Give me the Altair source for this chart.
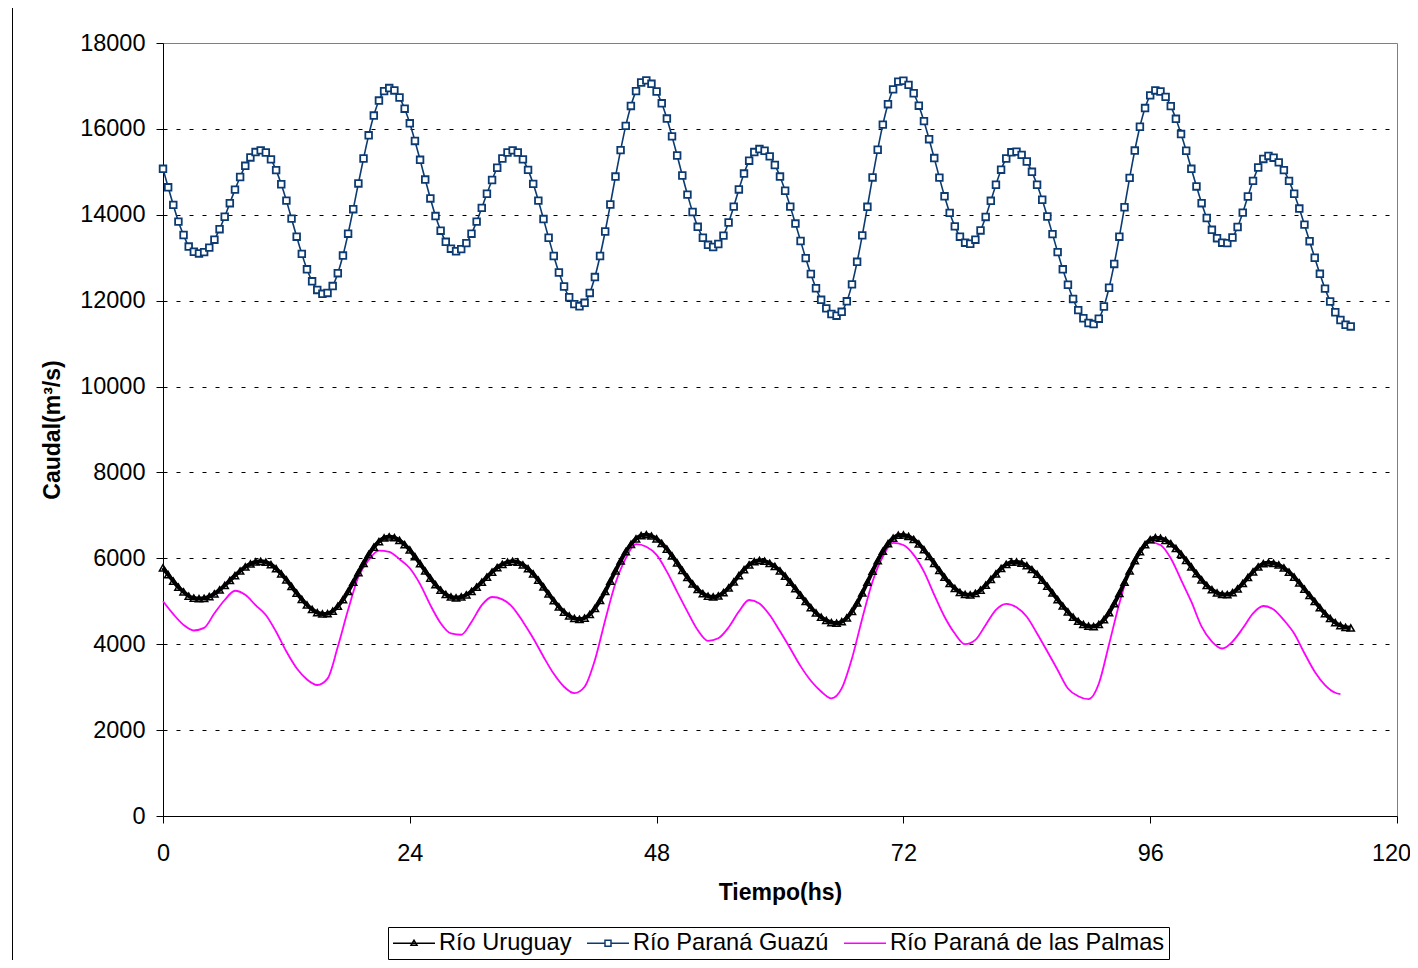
import altair as alt
import pandas as pd

# ---------------- data ----------------
series_names = ["Río Uruguay", "Río Paraná Guazú", "Río Paraná de las Palmas"]
series_colors = ["#000000", "#0B3B72", "#FF00FF"]

# half-hourly readings for the two marked series, hourly for the Palmas line
hours_marked = [i * 0.5 for i in range(232)]          # 0 .. 115.5
hours_palmas = list(range(115)) + [114.5]

guazu = [15070, 14640, 14230, 13840, 13530, 13260, 13140, 13100, 13130, 13235,
         13420, 13665, 13955, 14270, 14585, 14880, 15140, 15335, 15460, 15500,
         15450, 15290, 15040, 14710, 14330, 13910, 13490, 13090, 12730, 12450,
         12250, 12160, 12180, 12340, 12640, 13050, 13560, 14130, 14730, 15310,
         15850, 16310, 16660, 16880, 16950, 16895, 16730, 16470, 16130, 15720,
         15280, 14820, 14380, 13970, 13630, 13370, 13210, 13150, 13200, 13340,
         13560, 13840, 14160, 14490, 14810, 15095, 15310, 15450, 15500, 15450,
         15290, 15045, 14720, 14330, 13900, 13465, 13040, 12655, 12330, 12080,
         11920, 11870, 11950, 12180, 12550, 13040, 13610, 14240, 14890, 15505,
         16070, 16535, 16880, 17080, 17130, 17050, 16870, 16595, 16240, 15825,
         15380, 14915, 14470, 14065, 13720, 13465, 13300, 13250, 13320, 13515,
         13820, 14190, 14590, 14960, 15260, 15460, 15530, 15490, 15360, 15160,
         14890, 14560, 14190, 13795, 13390, 12990, 12620, 12290, 12020, 11820,
         11690, 11650, 11740, 11985, 12380, 12905, 13520, 14185, 14870, 15515,
         16100, 16575, 16920, 17100, 17120, 17025, 16830, 16540, 16180, 15760,
         15320, 14865, 14430, 14045, 13730, 13490, 13350, 13325, 13420, 13635,
         13950, 14325, 14700, 15050, 15310, 15455, 15470, 15395, 15240, 15000,
         14700, 14350, 13960, 13550, 13130, 12730, 12370, 12040, 11780, 11590,
         11480, 11455, 11580, 11865, 12300, 12855, 13490, 14175, 14860, 15495,
         16050, 16485, 16780, 16895, 16870, 16745, 16530, 16235, 15880, 15490,
         15070, 14660, 14270, 13925, 13650, 13455, 13350, 13340, 13470, 13715,
         14050, 14425, 14790, 15100, 15300, 15370, 15330, 15220, 15040, 14790,
         14490, 14145, 13770, 13385, 13000, 12625, 12280, 11980, 11730, 11550,
         11440, 11400]

uruguay = [5780, 5620, 5470, 5330, 5220, 5120, 5075, 5060, 5070, 5110,
           5175, 5265, 5370, 5485, 5600, 5705, 5800, 5870, 5915, 5930,
           5910, 5855, 5760, 5640, 5500, 5345, 5190, 5045, 4915, 4810,
           4735, 4705, 4710, 4770, 4885, 5040, 5230, 5445, 5670, 5885,
           6090, 6260, 6390, 6475, 6500, 6480, 6420, 6320, 6195, 6040,
           5875, 5705, 5540, 5385, 5260, 5160, 5100, 5080, 5100, 5150,
           5230, 5330, 5445, 5565, 5680, 5785, 5860, 5910, 5930, 5910,
           5850, 5760, 5640, 5495, 5335, 5175, 5015, 4870, 4750, 4660,
           4600, 4580, 4610, 4695, 4835, 5020, 5230, 5470, 5710, 5940,
           6155, 6325, 6455, 6530, 6550, 6520, 6455, 6350, 6215, 6060,
           5895, 5720, 5555, 5405, 5275, 5180, 5120, 5100, 5125, 5200,
           5310, 5450, 5600, 5735, 5850, 5925, 5950, 5935, 5885, 5810,
           5710, 5585, 5445, 5295, 5145, 4995, 4855, 4730, 4630, 4555,
           4505, 4490, 4525, 4615, 4765, 4960, 5195, 5445, 5700, 5945,
           6165, 6340, 6470, 6540, 6545, 6510, 6440, 6335, 6200, 6045,
           5885, 5720, 5560, 5415, 5300, 5210, 5160, 5150, 5185, 5260,
           5375, 5510, 5640, 5765, 5860, 5910, 5915, 5890, 5830, 5740,
           5630, 5495, 5350, 5195, 5040, 4890, 4755, 4630, 4535, 4460,
           4420, 4410, 4460, 4570, 4735, 4945, 5185, 5445, 5705, 5945,
           6155, 6320, 6435, 6480, 6470, 6420, 6340, 6230, 6100, 5955,
           5800, 5645, 5500, 5370, 5270, 5195, 5160, 5155, 5200, 5290,
           5415, 5555, 5685, 5800, 5875, 5900, 5885, 5845, 5775, 5680,
           5565, 5430, 5285, 5140, 4995, 4850, 4715, 4600, 4505, 4435,
           4395, 4380]

palmas = [5000, 4700, 4450, 4320, 4380, 4720, 5030, 5245, 5150, 4910,
          4680, 4290, 3830, 3440, 3180, 3050, 3200, 3940, 4800, 5570,
          5960, 6180, 6150, 5980, 5770, 5400, 4910, 4490, 4250, 4220,
          4520, 4910, 5100, 5045, 4860, 4525, 4140, 3710, 3310, 3010,
          2860, 3010, 3630, 4560, 5420, 6000, 6330, 6270, 6080, 5690,
          5220, 4760, 4330, 4080, 4140, 4390, 4760, 5030, 4950, 4680,
          4300, 3900, 3490, 3150, 2900, 2740, 2970, 3670, 4600, 5460,
          6040, 6360, 6310, 6080, 5690, 5150, 4640, 4250, 4000, 4100,
          4450, 4800, 4940, 4860, 4640, 4250, 3830, 3400, 2970, 2790,
          2720, 3080, 4000, 4950, 5730, 6190, 6370, 6310, 6000, 5500,
          4990, 4410, 4060, 3900, 4060, 4370, 4720, 4890, 4810, 4560,
          4250, 3790, 3360, 3050, 2870, 2840]

x_ticks = [0, 24, 48, 72, 96, 120]
y_ticks = list(range(0, 18001, 2000))

# legend symbols: line with marker (path units = 11 px)
legend_paths = [
    "M-1,0H2.818M0.64,0.18L0.909,-0.27L1.18,0.18Z",
    "M-1,0H0.636M1.182,0H2.818M0.636,-0.273H1.182V0.273H0.636Z",
    "M-1,0H2.818",
]

rows = []
for t, v in zip(hours_marked, uruguay):
    rows.append({"t": t, "q": v, "serie": series_names[0]})
for t, v in zip(hours_marked, guazu):
    rows.append({"t": t, "q": v, "serie": series_names[1]})
for t, v in zip(hours_palmas, palmas):
    rows.append({"t": t, "q": v, "serie": series_names[2]})
df = pd.DataFrame(rows)

FONT = "Liberation Sans"
W, H = 1234, 773

x_enc = alt.X("t:Q",
              scale=alt.Scale(domain=[0, 120], nice=False, zero=False),
              axis=alt.Axis(values=x_ticks, title="Tiempo(hs)", grid=False,
                            tickSize=7, labelPadding=18, labelFontSize=23.5,
                            labelFlush=False,
                            labelOffset=alt.condition("datum.value >= 120", alt.value(-6), alt.value(0)),
                            titleFontSize=23, titleFontWeight="bold",
                            titleY=76, titleBaseline="middle"))
y_enc = alt.Y("q:Q",
              scale=alt.Scale(domain=[0, 18000], nice=False),
              axis=alt.Axis(values=y_ticks, format="d", title="Caudal(m³/s)", grid=True,
                            gridColor="black", gridDash=[4, 9], gridWidth=1,
                            gridOpacity=alt.condition("datum.value >= 18000", alt.value(0), alt.value(1)),
                            tickSize=7, labelPadding=11, labelFontSize=23.5,
                            labelFlush=False,
                            titleFontSize=23, titleFontWeight="bold",
                            titleX=-111, titleY=386.5, titleBaseline="middle",
                            titleAngle=270))

base = alt.Chart(df)

def sel(name):
    return base.transform_filter(alt.datum.serie == name)

uru_line = sel(series_names[0]).mark_line(color=series_colors[0], strokeWidth=4,
                                           interpolate="monotone").encode(x=x_enc, y=y_enc)
uru_pts = sel(series_names[0]).mark_point(shape="triangle-up", size=52, filled=False,
                                           color=series_colors[0], strokeWidth=1.5,
                                           opacity=1).encode(x=x_enc, y=y_enc)
gua_line = sel(series_names[1]).mark_line(color=series_colors[1], strokeWidth=1.6,
                                           interpolate="monotone").encode(x=x_enc, y=y_enc)
gua_pts = sel(series_names[1]).mark_point(shape="square", size=44, filled=True, fill="white",
                                           stroke=series_colors[1], strokeWidth=1.8,
                                           opacity=1).encode(x=x_enc, y=y_enc)
pal_line = sel(series_names[2]).mark_line(color=series_colors[2], strokeWidth=1.8,
                                           interpolate="monotone").encode(x=x_enc, y=y_enc)

leg = alt.Legend(title=None, orient="none", legendX=225, legendY=884,
                 direction="horizontal", strokeColor="black", fillColor="white",
                 padding=4, labelFont=FONT, labelFontSize=23.6, labelColor="black",
                 labelLimit=500, symbolSize=484, symbolStrokeWidth=1.5,
                 labelOffset=23, columnPadding=12, cornerRadius=0)

legend_layer = base.transform_filter("datum.t < 0").mark_point(
    filled=False, strokeWidth=1.5, opacity=1).encode(
    x=x_enc, y=y_enc,
    color=alt.Color("serie:N", scale=alt.Scale(domain=series_names, range=series_colors), legend=leg),
    shape=alt.Shape("serie:N", scale=alt.Scale(domain=series_names, range=legend_paths), legend=leg),
)

frame = alt.Chart(pd.DataFrame({"k": [0]})).mark_rect(
    fill="white", fillOpacity=0, stroke="black", strokeWidth=1).encode(
    x=alt.value(-150.5), x2=alt.value(1400), y=alt.value(-35.5), y2=alt.value(1000))

chart = alt.layer(frame, pal_line, uru_line, uru_pts, gua_line, gua_pts, legend_layer).properties(
    width=W, height=H,
    autosize=alt.AutoSizeParams(type="none"),
    padding={"left": 155, "top": 35, "right": 13, "bottom": 144},
    background="white",
).configure(font=FONT).configure_view(
    stroke="#808080", strokeWidth=1
).configure_axis(
    domainColor="black", domainWidth=1, tickColor="black", tickWidth=1,
    labelColor="black", titleColor="black", labelFont=FONT, titleFont=FONT,
)

chart.save("out.html", embed_options={"renderer": "svg", "actions": False})
